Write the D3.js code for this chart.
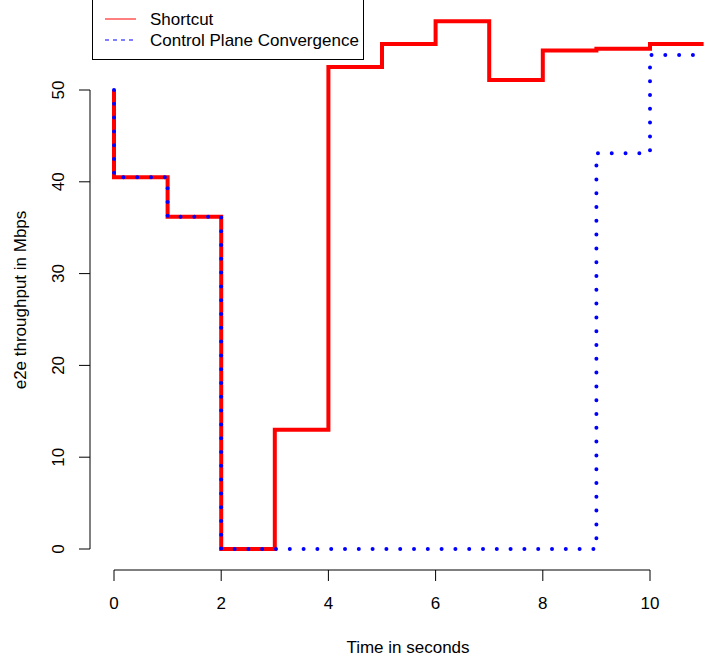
<!DOCTYPE html>
<html>
<head>
<meta charset="utf-8">
<script src="https://cdn.jsdelivr.net/npm/d3@7"></script>
<style>
  body { margin: 0; background: #fff; }
  svg text { font-family: "Liberation Sans", Arial, Helvetica, sans-serif; fill: #000; }
</style>
</head>
<body>
<svg id="chart" width="706" height="660"></svg>
<script>
// Data: step values, each holds until the next time point
var times = [0, 0, 1, 2, 3, 4, 5, 6, 7, 8, 9, 10, 11];
var shortcut = [50, 40.5, 36.2, 0, 13, 52.5, 55, 57.5, 51.1, 54.3, 54.5, 55, 55];
var convergence = [50, 40.5, 36.2, 0, 0, 0, 0, 0, 0, 0, 43.1, 53.8, 53.8];
var xTicks = [0, 2, 4, 6, 8, 10];
var yTicks = [0, 10, 20, 30, 40, 50];
var seriesNames = ['Shortcut', 'Control Plane Convergence'];

var svg = d3.select('#chart');
var fs = 17;

// scales (R style plot region, 4% padding)
var x = d3.scaleLinear().domain([0, 10]).range([114, 650]);
var y = d3.scaleLinear().domain([0, 50]).range([549, 90]);
var axisX = 570, axisY = 90;

// y axis
var yAxis = svg.append('g').attr('stroke', '#000').attr('stroke-width', 1);
yAxis.append('line')
  .attr('x1', axisY).attr('x2', axisY)
  .attr('y1', y(0)).attr('y2', y(50));
yAxis.selectAll('line.tick').data(yTicks).enter().append('line')
  .attr('class', 'tick')
  .attr('x1', axisY - 11).attr('x2', axisY)
  .attr('y1', function (d) { return y(d); })
  .attr('y2', function (d) { return y(d); });
svg.selectAll('text.ylab').data(yTicks).enter().append('text')
  .attr('class', 'ylab')
  .attr('font-size', fs)
  .attr('text-anchor', 'middle')
  .attr('transform', function (d) { return 'translate(64,' + y(d) + ') rotate(-90)'; })
  .text(function (d) { return d; });

// x axis
var xAxis = svg.append('g').attr('stroke', '#000').attr('stroke-width', 1);
xAxis.append('line')
  .attr('x1', x(0)).attr('x2', x(10))
  .attr('y1', axisX).attr('y2', axisX);
xAxis.selectAll('line.tick').data(xTicks).enter().append('line')
  .attr('class', 'tick')
  .attr('x1', function (d) { return x(d); })
  .attr('x2', function (d) { return x(d); })
  .attr('y1', axisX).attr('y2', axisX + 11);
svg.selectAll('text.xlab').data(xTicks).enter().append('text')
  .attr('class', 'xlab')
  .attr('font-size', fs)
  .attr('text-anchor', 'middle')
  .attr('x', function (d) { return x(d); })
  .attr('y', 609)
  .text(function (d) { return d; });

// axis titles
svg.append('text')
  .attr('font-size', fs)
  .attr('text-anchor', 'middle')
  .attr('x', 408).attr('y', 653)
  .text('Time in seconds');
svg.append('text')
  .attr('font-size', fs)
  .attr('text-anchor', 'middle')
  .attr('transform', 'translate(26,300) rotate(-90)')
  .text('e2e throughput in Mbps');

// step lines
var step = d3.line()
  .x(function (d) { return x(d[0]); })
  .y(function (d) { return y(d[1]); })
  .curve(d3.curveStepAfter);

svg.append('path')
  .datum(d3.zip(times, shortcut))
  .attr('d', step)
  .attr('fill', 'none')
  .attr('stroke', '#ff0000')
  .attr('stroke-width', 4);

svg.append('path')
  .datum(d3.zip(times, convergence))
  .attr('d', step)
  .attr('fill', 'none')
  .attr('stroke', '#0000ff')
  .attr('stroke-width', 4)
  .attr('stroke-linecap', 'round')
  .attr('stroke-dasharray', '0 13.8');

// legend
var lg = svg.append('g');
lg.append('rect')
  .attr('x', 92.5).attr('y', -0.5)
  .attr('width', 271).attr('height', 60)
  .attr('fill', '#fff').attr('stroke', '#000');
var legendColors = ['#ff0000', '#0000ff'];
var legendDash = [null, '4 4'];
seriesNames.forEach(function (name, i) {
  var ly = 19 + i * 21;
  lg.append('line')
    .attr('x1', 105).attr('x2', 136)
    .attr('y1', ly).attr('y2', ly)
    .attr('stroke', legendColors[i])
    .attr('stroke-width', 1)
    .attr('stroke-dasharray', legendDash[i]);
  lg.append('text')
    .attr('font-size', fs)
    .attr('x', 150).attr('y', ly + 6)
    .text(name);
});
</script>
</body>
</html>
